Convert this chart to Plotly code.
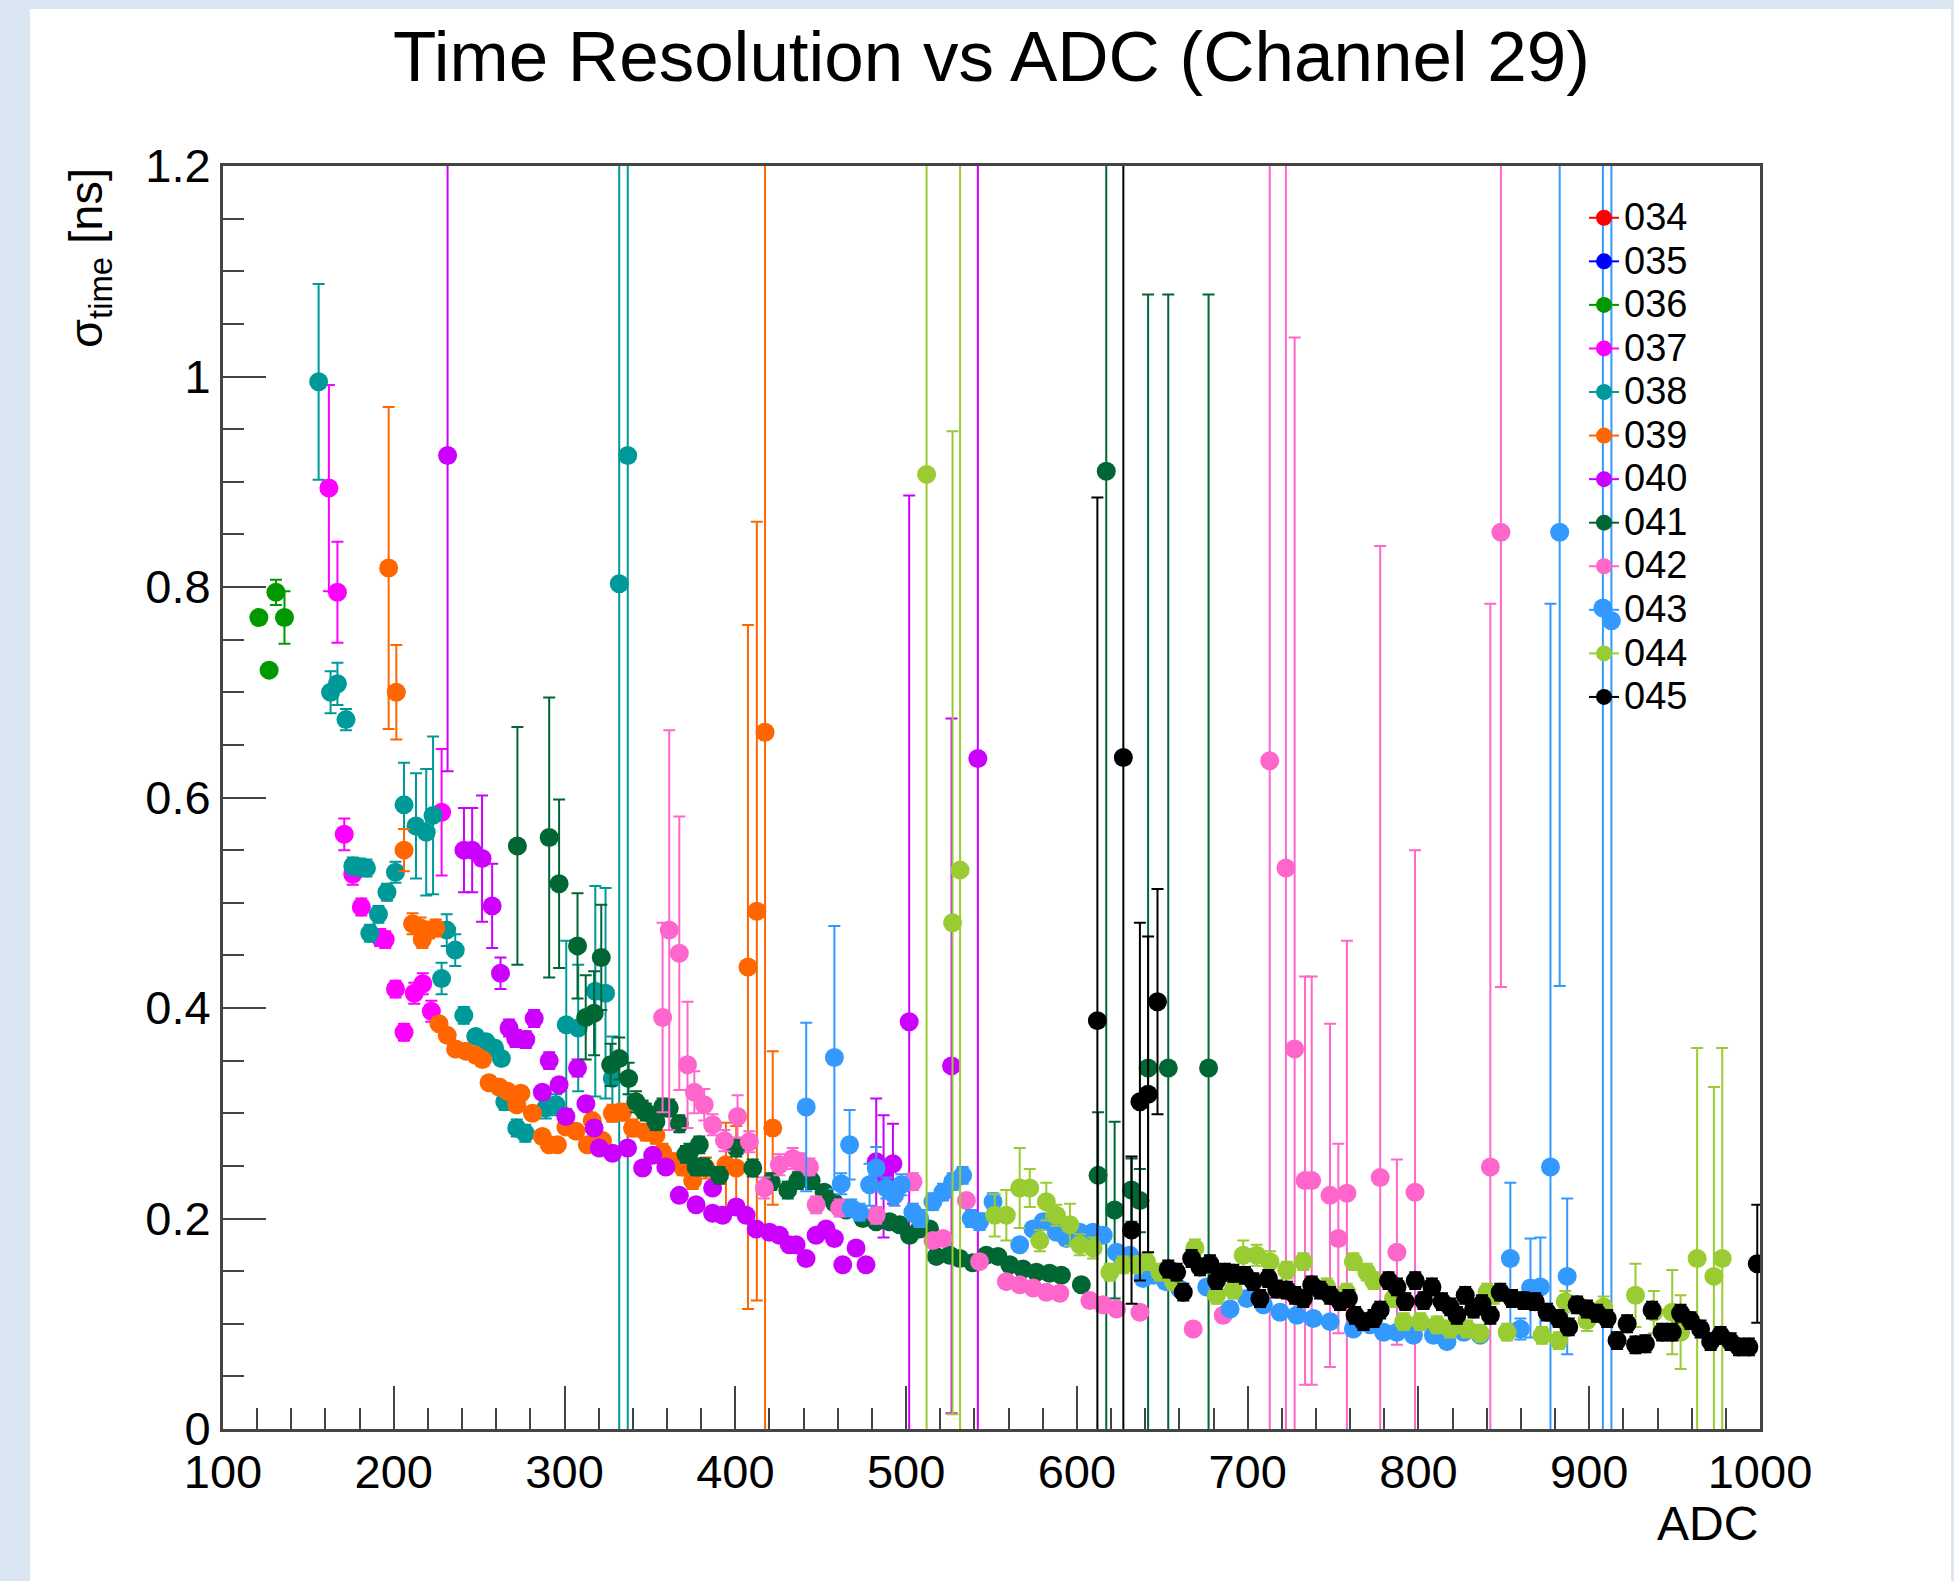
import plotly.graph_objects as go

FONT = "Liberation Sans, Arial, Helvetica, sans-serif"

labels = ["034", "035", "036", "037", "038", "039", "040", "041", "042", "043", "044", "045"]
colors = ["#ff0000", "#0000ff", "#009900", "#ff00ff", "#009999", "#ff6600",
          "#cc00ff", "#006633", "#ff66cc", "#3399ff", "#99cc33", "#000000"]

# ---- series data: ADC, sigma_time [ns], error [ns] ----
x_034, y_034, e_034 = [], [], []
x_035, y_035, e_035 = [], [], []

x_036 = [121, 127, 131, 136]
y_036 = [0.771, 0.721, 0.795, 0.771]
e_036 = [0.005, 0.005, 0.012, 0.025]

x_037 = [162, 167, 171, 176, 181, 192, 195, 201, 206, 212, 217, 222, 228]
y_037 = [0.894, 0.795, 0.565, 0.527, 0.496, 0.467, 0.465, 0.418, 0.377, 0.414, 0.423, 0.397, 0.586]
e_037 = [0.098, 0.048, 0.015, 0.01, 0.008, 0.008, 0.008, 0.008, 0.008, 0.01, 0.01, 0.01, 0.06]

x_038 = [156, 163, 167, 172, 176, 180, 184, 186, 191, 196, 201, 206, 213, 219, 223, 228, 231, 236,
         241, 248, 254, 259, 263, 265, 272, 277, 289, 295, 301, 308, 318, 324, 328, 332, 337]
y_038 = [0.995, 0.70, 0.708, 0.674, 0.535, 0.534, 0.533, 0.471, 0.489, 0.51, 0.529, 0.593, 0.573,
         0.567, 0.583, 0.428, 0.474, 0.455, 0.393, 0.373, 0.368, 0.362, 0.352, 0.311, 0.286, 0.281,
         0.305, 0.308, 0.384, 0.381, 0.416, 0.414, 0.333, 0.803, 0.925]
e_038 = [0.093, 0.02, 0.02, 0.01, 0.008, 0.008, 0.008, 0.008, 0.008, 0.008, 0.01, 0.04, 0.05, 0.06,
         0.075, 0.015, 0.015, 0.015, 0.008, 0.006, 0.006, 0.006, 0.006, 0.008, 0.008, 0.008, 0.01,
         0.01, 0.08, 0.06, 0.1, 0.1, 0.04, 1.0, 1.0]

x_039 = [197, 201.5, 206, 211, 215.7, 216.7, 220.6, 224.6, 226.5, 231.3, 236.2, 242.2, 248, 251.9,
         255.8, 261.7, 266.6, 270.4, 274.4, 272, 281.2, 287, 291, 295.8, 300.8, 306.6, 313.3, 316.2,
         322.2, 328, 333.9, 339.8, 347.6, 353.5, 357.4, 363.3, 369.1, 375, 382.8, 394.5, 400.5,
         407.4, 412.6, 417.4, 421.9]
y_039 = [0.818, 0.70, 0.55, 0.48, 0.476, 0.465, 0.474, 0.476, 0.385, 0.374, 0.361, 0.359, 0.355,
         0.351, 0.329, 0.325, 0.321, 0.317, 0.319, 0.308, 0.30, 0.278, 0.27, 0.27, 0.287, 0.283, 0.27,
         0.293, 0.274, 0.30, 0.301, 0.286, 0.282, 0.279, 0.263, 0.254, 0.249, 0.236, 0.248, 0.251,
         0.248, 0.439, 0.492, 0.662, 0.286]
e_039 = [0.153, 0.045, 0.02, 0.01, 0.01, 0.008, 0.008, 0.008, 0.006, 0.006, 0.006, 0.006, 0.006,
         0.006, 0.006, 0.006, 0.006, 0.006, 0.006, 0.006, 0.006, 0.006, 0.006, 0.006, 0.006, 0.006,
         0.006, 0.006, 0.006, 0.008, 0.008, 0.008, 0.008, 0.008, 0.008, 0.008, 0.008, 0.008, 0.01,
         0.04, 0.04, 0.325, 0.37, 0.7, 0.073]

x_040 = [231.5, 241.1, 245.9, 251.7, 257.6, 262.5, 267.5, 271.4, 277.3, 282.2, 287, 291, 296.8,
         300.8, 307.6, 312.5, 317.3, 320.3, 328.1, 336.9, 345.7, 351.6, 359.3, 367.2, 377, 386.7,
         386.7, 392.6, 400.5, 406.3, 412.2, 420, 425.8, 431.6, 435.6, 441.4, 447.3, 453.1, 458,
         462.9, 470.7, 476.5, 482.5, 486.8, 492.3, 501.8, 526.6, 542]
y_040 = [0.925, 0.55, 0.55, 0.542, 0.497, 0.433, 0.381, 0.371, 0.37, 0.39, 0.32, 0.35, 0.327, 0.297,
         0.343, 0.309, 0.286, 0.267, 0.262, 0.267, 0.248, 0.26, 0.249, 0.222, 0.213, 0.205, 0.229,
         0.203, 0.211, 0.203, 0.19, 0.187, 0.184, 0.175, 0.175, 0.162, 0.184, 0.19, 0.181, 0.156,
         0.172, 0.156, 0.254, 0.24, 0.252, 0.387, 0.345, 0.637]
e_040 = [0.30, 0.04, 0.04, 0.06, 0.04, 0.015, 0.008, 0.008, 0.008, 0.008, 0.006, 0.008, 0.006,
         0.006, 0.008, 0.006, 0.006, 0.006, 0.006, 0.006, 0.006, 0.006, 0.006, 0.006, 0.006, 0.006,
         0.006, 0.006, 0.006, 0.006, 0.006, 0.006, 0.006, 0.006, 0.006, 0.006, 0.006, 0.006, 0.006,
         0.006, 0.006, 0.006, 0.06, 0.058, 0.038, 0.50, 0.33, 0.7]

x_041 = [272.4, 291, 296.8, 307.6, 312.4, 317.3, 321.5, 327, 332, 337.5, 341.8, 345.7, 347.6, 353.5,
         357.4, 361.3, 367.2, 371.1, 373.1, 377, 378.9, 381.8, 390.7, 400.5, 410.2, 421, 430.7,
         436.6, 444.4, 452, 458, 464.9, 474.7, 482.5, 490.3, 496.2, 502, 507.9, 513.7, 517.7, 525.5,
         531.4, 539, 547, 553.8, 560.7, 568.4, 576.3, 584, 590.9, 602.6, 612.4, 617.2, 622.1, 632,
         636.9, 641.7, 653.5, 677.1]
y_041 = [0.554, 0.562, 0.518, 0.459, 0.391, 0.395, 0.448, 0.346, 0.352, 0.333, 0.311, 0.304, 0.301,
         0.292, 0.306, 0.305, 0.29, 0.261, 0.263, 0.249, 0.27, 0.249, 0.241, 0.267, 0.248, 0.235,
         0.227, 0.236, 0.236, 0.225, 0.215, 0.208, 0.20, 0.197, 0.197, 0.194, 0.184, 0.19, 0.19,
         0.164, 0.165, 0.162, 0.158, 0.165, 0.164, 0.156, 0.152, 0.149, 0.148, 0.146, 0.137, 0.241,
         0.91, 0.208, 0.227, 0.217, 0.343, 0.343, 0.343]
e_041 = [0.113, 0.133, 0.08, 0.05, 0.04, 0.04, 0.05, 0.02, 0.02, 0.015, 0.01, 0.008, 0.008, 0.008,
         0.008, 0.008, 0.008, 0.008, 0.008, 0.008, 0.008, 0.008, 0.008, 0.008, 0.008, 0.008, 0.008,
         0.008, 0.008, 0.006, 0.006, 0.006, 0.006, 0.006, 0.006, 0.006, 0.006, 0.006, 0.006, 0.006,
         0.006, 0.006, 0.006, 0.006, 0.006, 0.006, 0.006, 0.006, 0.006, 0.006, 0.006, 0.06, 0.95,
         0.084, 0.03, 0.03, 0.735, 0.735, 0.735]

x_042 = [357.4, 361.3, 367.2, 372, 376, 381.8, 386.7, 393.6, 401.3, 408.2, 417, 425.8, 433.6, 437.5,
         443.4, 447.3, 461, 482.5, 504, 515.7, 521.6, 535.3, 543, 558.7, 566.5, 574.4, 582.1, 590,
         607.6, 615.4, 623.2, 636.9, 668.1, 685.7, 712.9, 722.4, 727.5, 733.6, 737.5, 748.2, 753.1,
         758.1, 777.6, 787.4, 798, 842.1, 848.3]
y_042 = [0.391, 0.474, 0.452, 0.346, 0.32, 0.308, 0.289, 0.274, 0.297, 0.273, 0.229, 0.251, 0.257,
         0.254, 0.249, 0.213, 0.21, 0.203, 0.235, 0.179, 0.181, 0.217, 0.159, 0.14, 0.137, 0.134,
         0.13, 0.129, 0.122, 0.118, 0.114, 0.111, 0.095, 0.108, 0.635, 0.533, 0.361, 0.236, 0.236,
         0.222, 0.181, 0.224, 0.239, 0.168, 0.225, 0.249, 0.852]
e_042 = [0.09, 0.19, 0.13, 0.06, 0.02, 0.015, 0.01, 0.01, 0.02, 0.01, 0.01, 0.01, 0.01, 0.008,
         0.008, 0.008, 0.008, 0.008, 0.008, 0.006, 0.006, 0.006, 0.006, 0.006, 0.006, 0.006, 0.006,
         0.006, 0.006, 0.006, 0.006, 0.006, 0.006, 0.006, 0.7, 0.7, 0.676, 0.194, 0.194, 0.163, 0.09,
         0.24, 0.6, 0.088, 0.325, 0.535, 0.432]

x_043 = [441.5, 458, 462, 466.9, 467.8, 472.7, 478.6, 482.5, 488.4, 493.2, 497.2, 504, 507.9, 515.7,
         521.6, 527.3, 533.1, 538.1, 543, 550.9, 566.5, 574.3, 580.2, 588, 593.9, 601.7, 609.5,
         615.4, 623.2, 631, 638.8, 644.7, 652, 660.3, 676, 689.7, 699.5, 709.2, 719, 728.8, 738.5,
         748.3, 761.9, 771.7, 779.6, 787.4, 797.1, 808.8, 816.7, 826.5, 836.2, 853.8, 859.7, 865.6,
         871.4, 877.3, 882.7, 887.1, 908, 913]
y_043 = [0.306, 0.353, 0.233, 0.27, 0.21, 0.206, 0.232, 0.248, 0.229, 0.222, 0.232, 0.206, 0.20,
         0.216, 0.225, 0.235, 0.241, 0.20, 0.197, 0.216, 0.175, 0.19, 0.197, 0.187, 0.181, 0.187,
         0.187, 0.184, 0.168, 0.165, 0.143, 0.146, 0.14, 0.133, 0.135, 0.114, 0.124, 0.118, 0.111,
         0.108, 0.105, 0.102, 0.095, 0.099, 0.092, 0.092, 0.089, 0.089, 0.083, 0.092, 0.089, 0.162,
         0.095, 0.134, 0.135, 0.249, 0.852, 0.145, 0.78, 0.768]
e_043 = [0.08, 0.125, 0.01, 0.033, 0.008, 0.008, 0.02, 0.02, 0.01, 0.01, 0.01, 0.008, 0.008, 0.008,
         0.008, 0.008, 0.008, 0.008, 0.008, 0.008, 0.006, 0.006, 0.006, 0.006, 0.006, 0.006, 0.006,
         0.006, 0.006, 0.006, 0.006, 0.006, 0.006, 0.006, 0.006, 0.006, 0.006, 0.006, 0.006, 0.006,
         0.006, 0.006, 0.006, 0.006, 0.006, 0.006, 0.006, 0.006, 0.006, 0.006, 0.006, 0.072, 0.01,
         0.047, 0.047, 0.535, 0.431, 0.074, 0.9, 0.9]

x_044 = [512, 527.2, 531.6, 551.9, 558.7, 566.5, 572.4, 578.3, 582.1, 588, 595.9, 601.7, 609.5,
         619.3, 627.1, 635, 640.8, 648.6, 656.5, 669.1, 681.8, 691.6, 697.4, 705.3, 713.1, 722.9,
         732.6, 746.3, 758, 761.9, 769.8, 773.7, 785.4, 791.3, 801.1, 810.8, 818.6, 828.4, 836.2,
         840.2, 844, 851.9, 872.4, 882.2, 886, 898.7, 908.5, 927.1, 937.8, 948.6, 953.5, 963.2, 973,
         977.9]
y_044 = [0.907, 0.481, 0.531, 0.203, 0.203, 0.229, 0.229, 0.179, 0.216, 0.203, 0.194, 0.175, 0.172,
         0.149, 0.156, 0.156, 0.159, 0.149, 0.14, 0.172, 0.127, 0.132, 0.165, 0.165, 0.159, 0.151,
         0.159, 0.135, 0.13, 0.159, 0.149, 0.141, 0.124, 0.102, 0.102, 0.099, 0.095, 0.095, 0.091,
         0.13, 0.127, 0.092, 0.089, 0.084, 0.121, 0.103, 0.116, 0.127, 0.111, 0.111, 0.092, 0.162,
         0.145, 0.162]
e_044 = [0.95, 0.467, 0.7, 0.02, 0.024, 0.038, 0.018, 0.01, 0.018, 0.01, 0.02, 0.01, 0.01, 0.008,
         0.008, 0.008, 0.008, 0.008, 0.008, 0.008, 0.008, 0.008, 0.014, 0.01, 0.01, 0.008, 0.008,
         0.008, 0.008, 0.008, 0.008, 0.008, 0.008, 0.008, 0.008, 0.008, 0.008, 0.008, 0.008, 0.008,
         0.008, 0.008, 0.008, 0.008, 0.01, 0.01, 0.01, 0.03, 0.02, 0.04, 0.035, 0.2, 0.18, 0.2]

x_045 = [612, 627.2, 632, 636.9, 641.7, 647.2, 653.5, 658.4, 662.3, 667.2, 672.1, 677.9, 681.8,
         686.7, 691.6, 698.4, 703.3, 707.2, 712.1, 717, 722.9, 727.8, 732.6, 737.5, 742.4, 748.3,
         754.1, 759, 762.9, 767.8, 773.7, 777.6, 782.5, 787.4, 792.3, 798.1, 803, 807.9, 813.8,
         818.6, 822.5, 827.4, 832.3, 837.2, 842.1, 847.9, 854.8, 861.6, 868.4, 875.3, 882.1, 888,
         892.9, 898.7, 904.6, 910.5, 916.3, 922.2, 927.1, 932.9, 936.8, 942.7, 948.6, 953.5, 959.3,
         965.2, 971.1, 976.9, 982.8, 987.7, 993.5, 998.4]
y_045 = [0.388, 0.638, 0.189, 0.311, 0.318, 0.406, 0.152, 0.149, 0.13, 0.162, 0.154, 0.157, 0.141,
         0.149, 0.148, 0.146, 0.14, 0.124, 0.143, 0.133, 0.132, 0.127, 0.124, 0.137, 0.132, 0.127,
         0.121, 0.124, 0.108, 0.102, 0.105, 0.113, 0.141, 0.135, 0.121, 0.141, 0.122, 0.135, 0.121,
         0.116, 0.108, 0.127, 0.114, 0.119, 0.108, 0.13, 0.124, 0.122, 0.121, 0.111, 0.105, 0.097,
         0.118, 0.114, 0.11, 0.105, 0.084, 0.1, 0.08, 0.081, 0.113, 0.092, 0.092, 0.11, 0.103,
         0.095, 0.083, 0.089, 0.083, 0.078, 0.078, 0.157]
e_045 = [0.497, 0.7, 0.07, 0.17, 0.15, 0.107] + [0.008] * 65 + [0.056]

xs = [x_034, x_035, x_036, x_037, x_038, x_039, x_040, x_041, x_042, x_043, x_044, x_045]
ys = [y_034, y_035, y_036, y_037, y_038, y_039, y_040, y_041, y_042, y_043, y_044, y_045]
es = [e_034, e_035, e_036, e_037, e_038, e_039, e_040, e_041, e_042, e_043, e_044, e_045]

x_ticks = [100, 200, 300, 400, 500, 600, 700, 800, 900, 1000]
y_ticks = [0, 0.2, 0.4, 0.6, 0.8, 1.0, 1.2]
y_tick_text = ["0", "0.2", "0.4", "0.6", "0.8", "1", "1.2"]

MS = 19
fig = go.Figure()

# legend entries (line + marker, like ROOT "lep")
for lab, col in zip(labels, colors):
    fig.add_trace(go.Scatter(
        x=[None], y=[None], mode="lines+markers",
        name="<span style='font-size:38px'>%s</span>" % lab,
        legendgroup=lab, showlegend=True,
        line=dict(color=col, width=2),
        marker=dict(color=col, size=MS, symbol="circle"),
        hoverinfo="skip"))

# data with error bars
for lab, col, x, y, e in zip(labels, colors, xs, ys, es):
    if not x:
        continue
    fig.add_trace(go.Scatter(
        x=x, y=y, mode="markers", legendgroup=lab, showlegend=False, name=lab,
        marker=dict(color=col, size=MS, symbol="circle", line=dict(width=0)),
        error_y=dict(type="data", array=e, symmetric=True, color=col,
                     thickness=2, width=6, visible=True)))

W, H = 1954, 1581
L, R, T, B = 223, 194, 166, 152
pw, ph = W - L - R, H - T - B


def px(xpix):
    return (xpix - L) / pw


def py(ypix):
    return (H - B - ypix) / ph


fig.add_shape(type="rect", xref="paper", yref="paper", layer="below",
              x0=px(30), x1=px(1951), y0=py(H + 10), y1=py(9),
              fillcolor="white", line=dict(width=0))

axis_common = dict(showgrid=False, zeroline=False, showline=True, mirror=True,
                   linecolor="#444444", linewidth=3, ticks="inside", ticklen=43,
                   tickwidth=2, tickcolor="#444444",
                   tickfont=dict(family=FONT, size=47, color="black"))

fig.update_xaxes(range=[100, 1000], tickvals=x_ticks, ticktext=[str(v) for v in x_ticks],
                 minor=dict(ticks="inside", ticklen=21, tickwidth=2, tickcolor="#444444",
                            dtick=20, tick0=100),
                 **axis_common)
fig.update_yaxes(range=[0, 1.2], tickvals=y_ticks, ticktext=y_tick_text,
                 minor=dict(ticks="inside", ticklen=21, tickwidth=2, tickcolor="#444444",
                            dtick=0.05, tick0=0),
                 **axis_common)

fig.add_annotation(text="σ<sub>time</sub> [ns]", xref="paper", yref="paper",
                   x=px(89), y=1.0, xanchor="center", yanchor="top", textangle=-90,
                   showarrow=False, font=dict(family=FONT, size=47, color="black"))
fig.add_annotation(text="ADC", xref="paper", yref="paper", x=1.0, y=py(1523),
                   xanchor="right", yanchor="middle", showarrow=False,
                   font=dict(family=FONT, size=48, color="black"))

fig.update_layout(
    width=W, height=H, autosize=False,
    margin=dict(l=L, r=R, t=T, b=B),
    paper_bgcolor="#dbe6f3", plot_bgcolor="white",
    title=dict(text="Time Resolution vs ADC (Channel 29)", x=0.5, xref="paper",
               xanchor="center", y=1 - 56 / H, yref="container", yanchor="middle",
               font=dict(family=FONT, size=71, color="black")),
    legend=dict(x=px(1584), y=py(191), xanchor="left", yanchor="top",
                bgcolor="rgba(0,0,0,0)", borderwidth=0,
                font=dict(family=FONT, size=31.2, color="black"),
                itemwidth=30, tracegroupgap=0),
    showlegend=True,
)

fig.write_html("out.html")
